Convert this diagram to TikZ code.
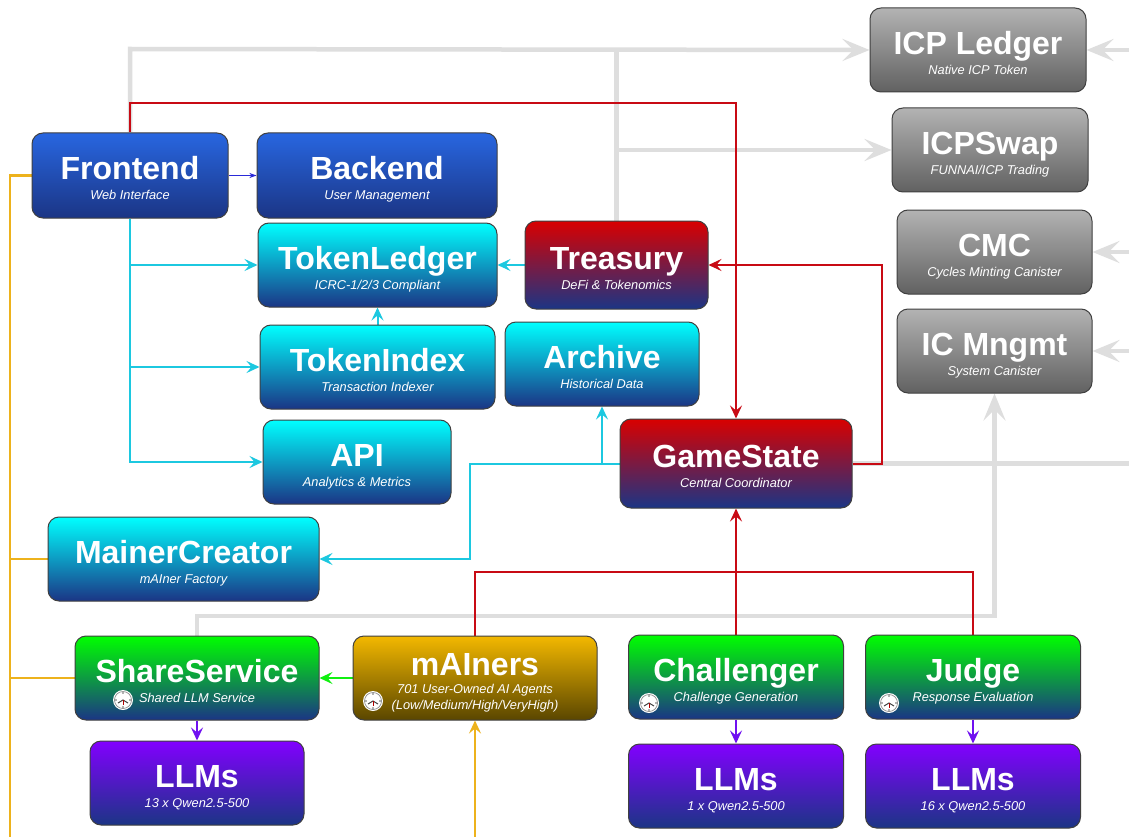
\documentclass[tikz,border=0pt]{standalone}
\usepackage{fontspec}
\setmainfont{Liberation Sans}
\usetikzlibrary{arrows.meta,backgrounds,calc}
\definecolor{cgray}{HTML}{DEDEDE}
\definecolor{cred}{HTML}{C80A14}
\definecolor{ccyan}{HTML}{1CC8E0}
\definecolor{cblue}{HTML}{2A2AD8}
\definecolor{cgreen}{HTML}{10F010}
\definecolor{cpurple}{HTML}{7010F0}
\definecolor{corange}{HTML}{EDB21C}
\definecolor{botblue}{HTML}{1B3585}
\definecolor{topblue}{HTML}{2866E0}
\tikzset{
  x=1pt,y=-1pt,
  card/.style={draw=black!75!white,line width=1pt,rounded corners=11pt,inner sep=0pt,text=white,anchor=center},
  bluecard/.style={card,top color=topblue,bottom color=botblue},
  cyancard/.style={card,top color=cyan,bottom color=botblue},
  redcard/.style={card,top color=red!85!black,bottom color=botblue},
  greencard/.style={card,top color=green,bottom color=botblue},
  goldcard/.style={card,top color={rgb,255:red,243;green,184;blue,0},bottom color={rgb,255:red,90;green,70;blue,0}},
  purplecard/.style={card,top color={rgb,255:red,130;green,0;blue,255},bottom color=botblue},
  graycard/.style={card,top color=black!30,bottom color=black!62},
  grayline/.style={draw=cgray,line width=4.5pt,-{Stealth[length=27pt,width=22pt,inset=11pt]}},
  grayplain/.style={draw=cgray,line width=4.5pt},
  redline/.style={draw=cred,line width=2pt,-{Stealth[length=13pt,width=12pt,inset=5pt]}},
  redplain/.style={draw=cred,line width=2pt},
  cyanline/.style={draw=ccyan,line width=2pt,-{Stealth[length=13pt,width=12pt,inset=5pt]}},
  greenline/.style={draw=cgreen,line width=2pt,-{Stealth[length=13pt,width=12pt,inset=5pt]}},
  purpleline/.style={draw=cpurple,line width=2pt,-{Stealth[length=13pt,width=12pt,inset=5pt]}},
  blueline/.style={draw=cblue,line width=1pt,-{Stealth[length=7pt,width=5pt,inset=2pt]}},
  orangeline/.style={draw=corange,line width=2.2pt},
  orangearrow/.style={draw=corange,line width=2.2pt,-{Stealth[length=13pt,width=12pt,inset=5pt]}},
  clockface/.pic={
    \fill[white] (0,0) circle (10pt);
    \draw[black!45,line width=.7pt] (0,0) circle (8.5pt);
    \draw[black!75,line width=1pt] (-5,3) -- (0,0) -- (5,3);
    \draw[red!70!black,line width=.7pt] (0,0) -- (0,5);
    \foreach \a in {0,90,180,270}{\fill[black!60] (\a:7) circle (.8pt);}
  }
}
\newcommand{\ttl}[1]{{\bfseries\fontsize{32}{34}\selectfont\vrule height 32.5pt depth 8pt width 0pt #1}}
\newcommand{\sub}[1]{{\itshape\fontsize{12.8}{15}\selectfont\vrule height 12pt depth 4pt width 0pt #1}}
\newcommand{\subb}[1]{{\itshape\fontsize{12.8}{15}\selectfont\vrule height 10.5pt depth 4pt width 0pt #1}}
\newcommand{\card}[7]{% style,name,cx,cy,w,h,text
  \node[#1,minimum width=#5pt,minimum height=#6pt] (#2) at (#3,#4) {\renewcommand\arraystretch{0}\begin{tabular}{@{}c@{}}#7\end{tabular}};}
\begin{document}
\begin{tikzpicture}
\useasboundingbox (0,0) rectangle (1129,837);
\card{bluecard}{frontend}{130}{175.5}{196}{85}{\ttl{Frontend}\\\sub{Web Interface}}
\card{bluecard}{backend}{377}{175.5}{240}{85}{\ttl{Backend}\\\sub{User Management}}
\card{cyancard}{tokenledger}{377.5}{265}{239}{84}{\ttl{TokenLedger}\\\sub{ICRC-1/2/3 Compliant}}
\card{redcard}{treasury}{616.5}{265}{183}{88}{\ttl{Treasury}\\\sub{DeFi \& Tokenomics}}
\card{cyancard}{tokenindex}{377.5}{367}{235}{84}{\ttl{TokenIndex}\\\sub{Transaction Indexer}}
\card{cyancard}{archive}{602}{364}{194}{84}{\ttl{Archive}\\\sub{Historical Data}}
\card{cyancard}{api}{357}{462}{188}{84}{\ttl{API}\\\sub{Analytics \& Metrics}}
\card{cyancard}{mainercreator}{183.5}{559}{271}{84}{\ttl{MainerCreator}\\\sub{mAIner Factory}}
\card{redcard}{gamestate}{736}{463.5}{232}{89}{\ttl{GameState}\\\sub{Central Coordinator}}
\card{greencard}{shareservice}{197}{678}{244}{84}{\ttl{ShareService}\\\sub{Shared LLM Service}}
\card{goldcard}{mainers}{475}{678}{244}{84}{\ttl{mAIners}\\\subb{701 User-Owned AI Agents}\\\sub{(Low/Medium/High/VeryHigh)}}
\card{greencard}{challenger}{736}{677}{215}{84}{\ttl{Challenger}\\\sub{Challenge Generation}}
\card{greencard}{judge}{973}{677}{215}{84}{\ttl{Judge}\\\sub{Response Evaluation}}
\card{purplecard}{llmsa}{197}{783}{214}{84}{\ttl{LLMs}\\\sub{13 x Qwen2.5-500}}
\card{purplecard}{llmsb}{736}{786}{215}{84}{\ttl{LLMs}\\\sub{1 x Qwen2.5-500}}
\card{purplecard}{llmsc}{973}{786}{215}{84}{\ttl{LLMs}\\\sub{16 x Qwen2.5-500}}
\card{graycard}{icpledger}{978}{50}{216}{84}{\ttl{ICP Ledger}\\\sub{Native ICP Token}}
\card{graycard}{icpswap}{990}{150}{196}{84}{\ttl{ICPSwap}\\\sub{FUNNAI/ICP Trading}}
\card{graycard}{cmc}{994.5}{252}{195}{84}{\ttl{CMC}\\\sub{Cycles Minting Canister}}
\card{graycard}{icmngmt}{994.5}{351}{195}{84}{\ttl{IC Mngmt}\\\sub{System Canister}}
\pic at (123,700) {clockface};
\pic at (373,701) {clockface};
\pic at (649,703) {clockface};
\pic at (889,703) {clockface};
\coordinate (topleft) at (130,49);
\coordinate (topmid) at (616.5,49);
\coordinate (swapjoin) at (616.5,150);
\coordinate (rightedgea) at (1129,50);
\coordinate (rightedgec) at (1129,252);
\coordinate (rightedged) at (1129,351);
\coordinate (rightedgeg) at (1129,463.5);
\coordinate (shareup) at (197,616);
\coordinate (shareright) at (994.5,616);
\coordinate (redtopl) at (130,103);
\coordinate (redtopr) at (736,103);
\coordinate (redrb) at (882,463.5);
\coordinate (redrt) at (882,265);
\coordinate (redml) at (475,572);
\coordinate (redmr) at (973,572);
\coordinate (cyanl) at (130,462);
\coordinate (cyanb) at (130,265);
\coordinate (cyanc) at (130,367);
\coordinate (gsa) at (470,463.5);
\coordinate (gsb) at (470,559);
\coordinate (gsc) at (602,463.5);
\coordinate (orangetop) at (10,175.5);
\coordinate (orangebot) at (10,837);
\coordinate (orangem) at (10,559);
\coordinate (orangeg) at (10,678);
\coordinate (orangemain) at (475,837);
\begin{scope}[on background layer]
\fill[white] (0,0) rectangle (1129,837);
\draw[grayline] (frontend.north) -- (topleft) -- (icpledger.west);
\draw[grayplain] (treasury.north) -- (topmid);
\draw[grayline] (swapjoin) -- (icpswap.west);
\draw[grayline] (rightedgea) -- (icpledger.east);
\draw[grayline] (rightedgec) -- (cmc.east);
\draw[grayline] (rightedged) -- (icmngmt.east);
\draw[grayplain] (gamestate.east) -- (rightedgeg);
\draw[grayline] (shareservice.north) -- (shareup) -- (shareright) -- (icmngmt.south);
\draw[redline] (frontend.north) -- (redtopl) -- (redtopr) -- (gamestate.north);
\draw[redline] (gamestate.east) -- (redrb) -- (redrt) -- (treasury.east);
\draw[redline] (challenger.north) -- (gamestate.south);
\draw[redplain] (mainers.north) -- (redml) -- (redmr) -- (judge.north);
\draw[cyanline] (frontend.south) -- (cyanl) -- (api.west);
\draw[cyanline] (cyanb) -- (tokenledger.west);
\draw[cyanline] (cyanc) -- (tokenindex.west);
\draw[cyanline] (tokenindex.north) -- (tokenledger.south);
\draw[cyanline] (treasury.west) -- (tokenledger.east);
\draw[cyanline] (gamestate.west) -- (gsa) -- (gsb) -- (mainercreator.east);
\draw[cyanline] (gsc) -- (archive.south);
\draw[blueline] (frontend.east) -- (backend.west);
\draw[greenline] (mainers.west) -- (shareservice.east);
\draw[purpleline] (shareservice.south) -- (llmsa.north);
\draw[purpleline] (challenger.south) -- (llmsb.north);
\draw[purpleline] (judge.south) -- (llmsc.north);
\draw[orangeline] (frontend.west) -- (orangetop) -- (orangebot);
\draw[orangeline] (mainercreator.west) -- (orangem);
\draw[orangeline] (shareservice.west) -- (orangeg);
\draw[orangearrow] (orangemain) -- (mainers.south);
\end{scope}
\end{tikzpicture}
\end{document}
